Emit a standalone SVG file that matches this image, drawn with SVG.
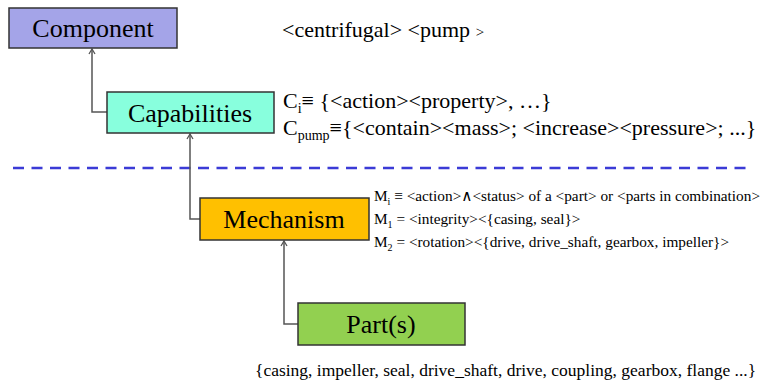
<svg xmlns="http://www.w3.org/2000/svg" width="764" height="383" viewBox="0 0 764 383">
<style>
.box{stroke:#333;stroke-width:1.5}
.lbl{font-family:"Liberation Serif","Times New Roman",serif;font-size:26px;fill:#000;text-anchor:middle}
.ann{font-family:"Liberation Serif","DejaVu Serif",serif;fill:#000}
.conn{fill:none;stroke:#555;stroke-width:1.5}
</style>
<defs>
<marker id="arr" markerWidth="8" markerHeight="8" refX="6" refY="4" orient="auto" markerUnits="userSpaceOnUse">
<path d="M1,1 L6,4 L1,7" fill="none" stroke="#555" stroke-width="1.3"/>
</marker>
</defs>
<rect width="764" height="383" fill="#fff"/>
<line x1="13" y1="168" x2="752" y2="168" stroke="#3b3bd6" stroke-width="2.5" stroke-dasharray="11 7.5"/>
<g id="connectors">
<path class="conn" d="M107,112 H92 V49" marker-end="url(#arr)"/>
<path class="conn" d="M200,219 H190 V134" marker-end="url(#arr)"/>
<path class="conn" d="M298,324 H284 V241" marker-end="url(#arr)"/>
</g>
<g id="component">
<rect class="box" x="9" y="8" width="168" height="40" fill="#a4a4e8"/>
<text class="lbl" x="93" y="37">Component</text>
</g>
<g id="capabilities">
<rect class="box" x="107" y="92" width="167" height="41" fill="#88ffdd"/>
<text class="lbl" x="190" y="122">Capabilities</text>
</g>
<g id="mechanism">
<rect class="box" x="200" y="198" width="169" height="42" fill="#ffc000"/>
<text class="lbl" x="284" y="228">Mechanism</text>
</g>
<g id="parts">
<rect class="box" x="298" y="303" width="167" height="42" fill="#92d050"/>
<text class="lbl" x="381" y="333">Part(s)</text>
</g>
<g id="annotations" font-family="'Liberation Serif', 'DejaVu Serif', serif">
<text class="ann" x="282" y="37" font-size="22">&lt;centrifugal&gt; &lt;pump <tspan font-size="15">&gt;</tspan></text>
<text class="ann" x="283" y="108" font-size="22">C<tspan font-size="14" dy="5">i</tspan><tspan dy="-5">≡ {&lt;action&gt;&lt;property&gt;, …}</tspan></text>
<text class="ann" x="283" y="135" font-size="22">C<tspan font-size="14" dy="5">pump</tspan><tspan dy="-5">≡{&lt;contain&gt;&lt;mass&gt;; &lt;increase&gt;&lt;pressure&gt;; ...}</tspan></text>
<text class="ann" x="374" y="201" font-size="15.3">M<tspan font-size="10" dy="3.5">i</tspan><tspan dy="-3.5"> ≡ &lt;action&gt;∧&lt;status&gt; of a &lt;part&gt; or &lt;parts in combination&gt;</tspan></text>
<text class="ann" x="374" y="224" font-size="15.3">M<tspan font-size="10" dy="3.5">1</tspan><tspan dy="-3.5"> = &lt;integrity&gt;&lt;{casing, seal}&gt;</tspan></text>
<text class="ann" x="374" y="247" font-size="15.3">M<tspan font-size="10" dy="3.5">2</tspan><tspan dy="-3.5"> = &lt;rotation&gt;&lt;{drive, drive_shaft, gearbox, impeller}&gt;</tspan></text>
<text class="ann" x="255" y="376" font-size="17.5">{casing, impeller, seal, drive_shaft, drive, coupling, gearbox, flange ...}</text>
</g>
</svg>
